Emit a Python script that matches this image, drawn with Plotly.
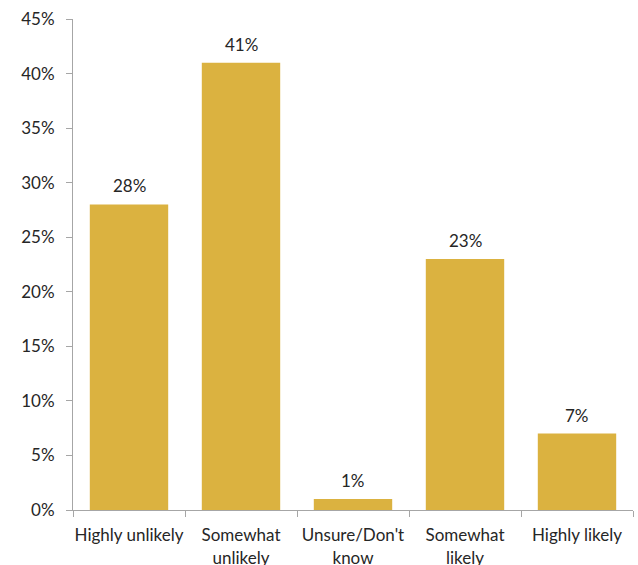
import plotly.graph_objects as go

categories = ["Highly unlikely", "Somewhat<br>unlikely", "Unsure/Don't<br>know", "Somewhat<br>likely", "Highly likely"]
values = [28, 41, 1, 23, 7]
y_ticks = [0, 5, 10, 15, 20, 25, 30, 35, 40, 45]

fig = go.Figure(go.Bar(
    x=categories, y=values,
    marker=dict(color="#DBB240", line=dict(width=0)),
    cliponaxis=False,
))
for c, v in zip(categories, values):
    fig.add_annotation(x=c, y=v, text=f"{v}%", showarrow=False,
                       yanchor="bottom", yshift=6,
                       font=dict(size=17, color="#262626"))
fig.update_layout(
    width=638, height=565,
    margin=dict(l=73, r=5, t=19, b=55, autoexpand=False),
    plot_bgcolor="white", paper_bgcolor="white",
    font=dict(family="Lato", size=17, color="#262626"),
    bargap=0.3, showlegend=False,
)
fig.update_xaxes(showline=True, linecolor="#A6A6A6", linewidth=1,
                 ticks="outside", tickson="boundaries", ticklen=6, tickcolor="#A6A6A6",
                 tickangle=0, automargin=False, showgrid=False, ticklabelstandoff=10)
fig.update_yaxes(range=[0, 45], tickvals=y_ticks, ticktext=[f"{t}%" for t in y_ticks],
                 showline=True, linecolor="#A6A6A6", linewidth=1,
                 ticks="outside", ticklen=6, tickcolor="#A6A6A6",
                 automargin=False, showgrid=False, zeroline=False, ticklabelstandoff=8)
fig.write_html("out.html")
